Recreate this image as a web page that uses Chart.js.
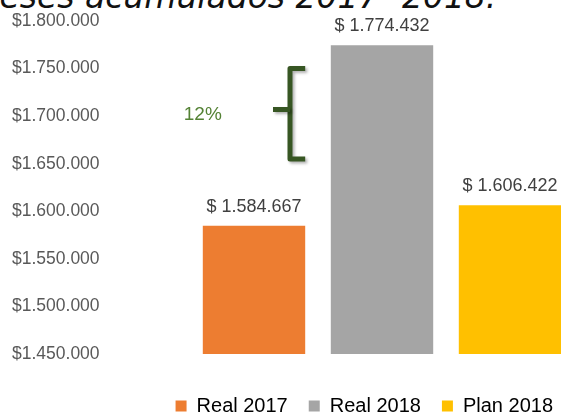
<!DOCTYPE html>
<html>
<head>
<meta charset="utf-8">
<script src="https://cdn.jsdelivr.net/npm/chart.js"></script>
<style>
  html, body { margin: 0; padding: 0; background: #fff; width: 561px; height: 414px; overflow: hidden; }
  #wrap { position: relative; width: 561px; height: 414px; overflow: hidden; }
  #title {
    position: absolute; left: -29px; top: -20px; white-space: nowrap;
    font: italic 33px "DejaVu Sans", sans-serif; line-height: 1; color: #111;
  }
  canvas { position: absolute; left: 0; top: 0; }
</style>
</head>
<body>
<div id="wrap">
  <div id="title">Meses acumulados 2017- 2018.</div>
  <canvas id="chart" width="600" height="426"></canvas>
</div>
<script>
const categories = ["Real 2017", "Real 2018", "Plan 2018"];
const values = [1584667, 1774432, 1606422];
const barColors = ["#ED7D31", "#A5A5A5", "#FFC000"];
const yMin = 1450000;
const yMax = 1800000;
const yStep = 50000;

// brace between Real 2017 and Real 2018
const braceTop = 1750000;
const braceBottom = 1655000;
const braceMid = 1707000;

const font = "'Liberation Sans', Arial, sans-serif";

const fmt = (v) => String(Math.round(v)).replace(/\B(?=(\d{3})+(?!\d))/g, ".");

const labelsPlugin = {
  id: "barLabels",
  afterDatasetsDraw(chart) {
    const ctx = chart.ctx;
    const meta = chart.getDatasetMeta(0);
    ctx.save();
    ctx.font = "18px " + font;
    ctx.fillStyle = "#404040";
    ctx.textAlign = "center";
    ctx.textBaseline = "middle";
    meta.data.forEach((bar, i) => {
      ctx.fillText("$ " + fmt(values[i]), bar.x, bar.y - 19);
    });

    // growth annotation
    const x = chart.scales.x;
    const y = chart.scales.y;
    const cx = x.getPixelForValue(0);
    const half = meta.data[0].width / 2;
    const top = y.getPixelForValue(braceTop);
    const bottom = y.getPixelForValue(braceBottom);
    const mid = y.getPixelForValue(braceMid);
    const pct = Math.round((values[1] / values[0] - 1) * 100) + "%";

    ctx.font = "19px " + font;
    ctx.fillStyle = "#548235";
    ctx.fillText(pct, cx - half, mid + 5);

    ctx.shadowColor = "rgba(0,0,0,0.3)";
    ctx.shadowBlur = 3;
    ctx.shadowOffsetX = 2;
    ctx.shadowOffsetY = 2;
    ctx.strokeStyle = "#375623";
    ctx.lineWidth = 5;
    ctx.lineJoin = "round";
    ctx.lineCap = "butt";
    const vx = cx + 36;
    ctx.beginPath();
    ctx.moveTo(cx + half, top);
    ctx.lineTo(vx, top);
    ctx.lineTo(vx, bottom);
    ctx.lineTo(cx + half, bottom);
    ctx.stroke();
    ctx.beginPath();
    ctx.moveTo(vx, mid);
    ctx.lineTo(cx + 19, mid);
    ctx.stroke();
    ctx.restore();
  }
};

const ctx = document.getElementById("chart");
new Chart(ctx, {
  type: "bar",
  data: {
    labels: categories,
    datasets: [{
      label: "Valores",
      data: values,
      backgroundColor: barColors,
      borderWidth: 0,
      barPercentage: 0.8,
      categoryPercentage: 1
    }]
  },
  options: {
    responsive: false,
    animation: false,
    layout: { padding: { left: 12, right: 26, top: 21, bottom: 0 } },
    plugins: {
      tooltip: { enabled: false },
      legend: {
        position: "bottom",
        align: "end",
        labels: {
          boxWidth: 11,
          boxHeight: 11,
          padding: 21,
          color: "#595959",
          font: { family: font, size: 20 },
          generateLabels: () => categories.map((c, i) => ({
            text: c,
            fillStyle: barColors[i],
            strokeStyle: barColors[i],
            lineWidth: 0,
            hidden: false,
            index: i
          }))
        }
      }
    },
    scales: {
      x: {
        grid: { display: false, drawTicks: false },
        border: { display: false },
        ticks: { display: false },
        afterFit: (s) => { s.height = 21; }
      },
      y: {
        min: yMin,
        max: yMax,
        grid: { display: false, drawTicks: false },
        border: { display: false },
        ticks: {
          stepSize: yStep,
          padding: 0,
          crossAlign: "far",
          color: "#595959",
          font: { family: font, size: 17.5 },
          callback: (v) => "$" + fmt(v)
        },
        afterFit: (s) => { s.width = 178; }
      }
    }
  },
  plugins: [labelsPlugin]
});
</script>
</body>
</html>
